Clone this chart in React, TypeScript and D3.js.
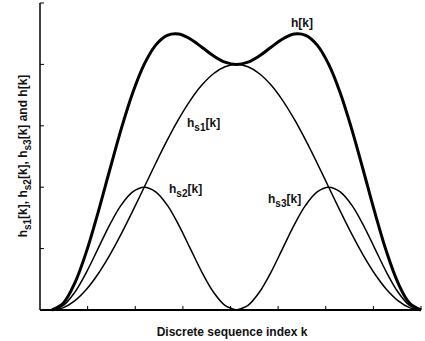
import React from "react";
import * as d3 from "d3";

const kValues = [
  0.25, 0.4922, 0.7344, 0.9766, 1.2188, 1.4609, 1.7031, 1.9453, 2.1875, 2.4297, 2.6719,
  2.9141, 3.1563, 3.3984, 3.6406, 3.8828, 4.125, 4.3672, 4.6094, 4.8516, 5.0938, 5.3359,
  5.5781, 5.8203, 6.0625, 6.3047, 6.5469, 6.7891, 7.0313, 7.2734, 7.5156, 7.7578, 8.0,
];
const hs1 = [
  0, 0.0384, 0.1522, 0.3371, 0.5858, 0.8889, 1.2346, 1.6098, 2.0, 2.3902, 2.7654, 3.1111,
  3.4142, 3.6629, 3.8478, 3.9616, 4.0, 3.9616, 3.8478, 3.6629, 3.4142, 3.1111, 2.7654,
  2.3902, 2.0, 1.6098, 1.2346, 0.8889, 0.5858, 0.3371, 0.1522, 0.0384, 0,
];
const hs2 = [
  0, 0.0761, 0.2929, 0.6173, 1.0, 1.3827, 1.7071, 1.9239, 2.0, 1.9239, 1.7071, 1.3827, 1.0,
  0.6173, 0.2929, 0.0761, 0,
];
const hs3 = [
  0, 0.0761, 0.2929, 0.6173, 1.0, 1.3827, 1.7071, 1.9239, 2.0, 1.9239, 1.7071, 1.3827, 1.0,
  0.6173, 0.2929, 0.0761, 0,
];
const hTotal = [
  0, 0.1145, 0.4451, 0.9544, 1.5858, 2.2716, 2.9417, 3.5337, 4.0, 4.3141, 4.4725, 4.4938,
  4.4142, 4.2802, 4.1407, 4.0377, 4.0, 4.0377, 4.1407, 4.2802, 4.4142, 4.4938, 4.4725,
  4.3141, 4.0, 3.5337, 2.9417, 2.2716, 1.5858, 0.9544, 0.4451, 0.1145, 0,
];
const xTicks = [1, 2, 3, 4, 5, 6, 7, 8];
const yTicks = [1, 2, 3, 4, 5];

const W = 425;
const H = 341;
const FONT = "'Liberation Sans', Arial, Helvetica, sans-serif";

export default function App() {
  const x = d3.scaleLinear().domain([0, 8]).range([40, 421]);
  const y = d3.scaleLinear().domain([0, 5]).range([310, 3]);

  const line = d3
    .line<[number, number]>()
    .x((d) => x(d[0]))
    .y((d) => y(d[1]))
    .curve(d3.curveCatmullRom.alpha(0.5));

  const pts = (ks: number[], vs: number[]) => vs.map((v, i) => [ks[i], v] as [number, number]);

  const pH = line(pts(kValues, hTotal)) || "";
  const p1 = line(pts(kValues, hs1)) || "";
  const p2 = line(pts(kValues.slice(0, 17), hs2)) || "";
  const p3 = line(pts(kValues.slice(16), hs3)) || "";

  const lab = { fontFamily: FONT, fontWeight: 700, fontSize: 12, fill: "#111" } as const;

  const Sub = ({ t }: { t: string }) => (
    <tspan fontSize={10} dy={4}>
      {t}
    </tspan>
  );

  return (
    <svg
      width={W}
      height={H}
      style={{ position: "absolute", left: 0, top: 0, background: "#fff" }}
    >
      <rect x={0} y={0} width={W} height={H} fill="#fff" />
      <g fill="none" stroke="#000" strokeLinejoin="round">
        <path d={p1} strokeWidth={1.5} />
        <path d={p2} strokeWidth={1.5} />
        <path d={p3} strokeWidth={1.5} />
        <path d={pH} strokeWidth={3} />
      </g>
      {/* axes */}
      <line x1={x(0)} x2={x(0)} y1={y(5)} y2={y(0)} stroke="#000" strokeWidth={1.5} />
      <line x1={x(0)} x2={x(8)} y1={y(0)} y2={y(0)} stroke="#000" strokeWidth={2} />
      {yTicks.map((t) => (
        <line key={"y" + t} x1={x(0)} x2={x(0) + 4} y1={y(t)} y2={y(t)} stroke="#000" strokeWidth={1} />
      ))}
      {xTicks.map((t) => (
        <line key={"x" + t} x1={x(t)} x2={x(t)} y1={y(0)} y2={y(0) - 4} stroke="#000" strokeWidth={1} />
      ))}
      {/* curve labels */}
      <text x={291} y={27} {...lab}>
        h[k]
      </text>
      <text x={187} y={127} {...lab}>
        h<Sub t="s1" />
        <tspan dy={-4}>[k]</tspan>
      </text>
      <text x={169} y={193} {...lab}>
        h<Sub t="s2" />
        <tspan dy={-4}>[k]</tspan>
      </text>
      <text x={268} y={203} {...lab}>
        h<Sub t="s3" />
        <tspan dy={-4}>[k]</tspan>
      </text>
      {/* axis labels */}
      <text x={232} y={336} textAnchor="middle" {...lab}>
        Discrete sequence index k
      </text>
      <text transform={`translate(27,${156}) rotate(-90)`} textAnchor="middle" {...lab}>
        h<Sub t="s1" />
        <tspan dy={-4}>[k], h</tspan>
        <Sub t="s2" />
        <tspan dy={-4}>[k], h</tspan>
        <Sub t="s3" />
        <tspan dy={-4}>[k] and h[k]</tspan>
      </text>
    </svg>
  );
}
